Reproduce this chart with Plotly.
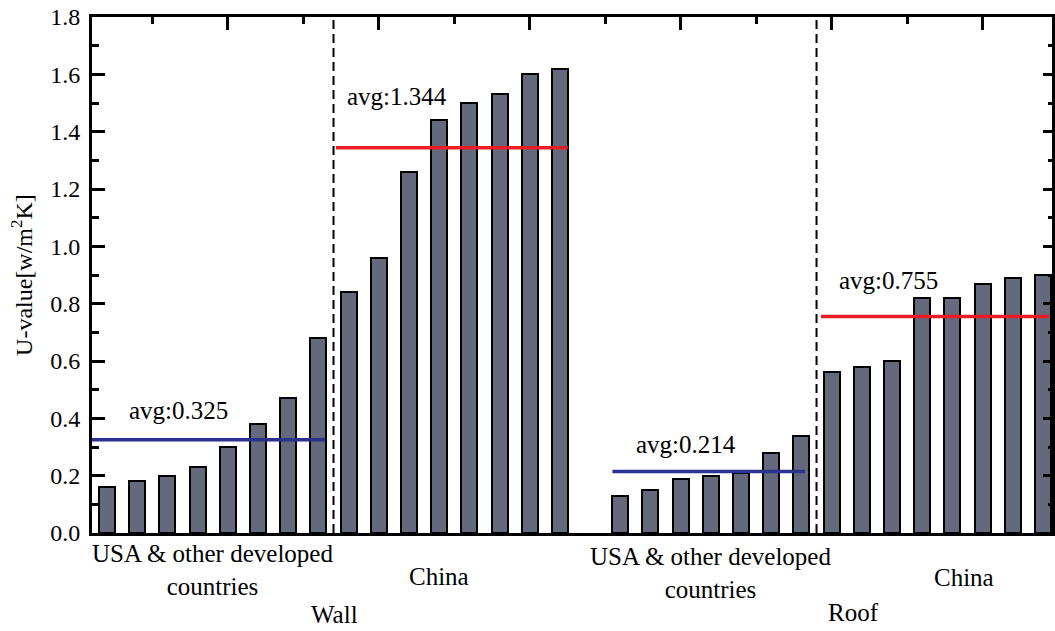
import plotly.graph_objects as go

# U-values of building envelope components [W/(m2K)]
wall_usa = [0.16, 0.18, 0.20, 0.23, 0.30, 0.38, 0.47, 0.68]
wall_china = [0.84, 0.96, 1.26, 1.44, 1.50, 1.53, 1.60, 1.62]
roof_usa = [0.13, 0.15, 0.19, 0.20, 0.21, 0.28, 0.34]
roof_china = [0.56, 0.58, 0.60, 0.82, 0.82, 0.87, 0.89, 0.90]

region_labels = ["USA & other developed<br>countries", "China"]
component_labels = ["Wall", "Roof"]

FONT = "Times New Roman"
BAR_FILL = "#646a7c"
BLUE = "#2b318f"
RED = "#ec1c24"

# slot positions: groups placed side by side, one empty slot between wall and roof
groups = [wall_usa, wall_china, roof_usa, roof_china]
positions = []
slot = 1
for gi, vals in enumerate(groups):
    if gi == 2:
        slot += 1
    positions.append(list(range(slot, slot + len(vals))))
    slot += len(vals)

fig = go.Figure()

for vals, xs in zip(groups, positions):
    fig.add_trace(go.Bar(
        x=xs, y=vals, width=0.53,
        marker=dict(color=BAR_FILL, line=dict(color="black", width=2)),
        showlegend=False, hoverinfo="skip",
    ))

# dashed separators between regions
for xs in (positions[0], positions[2]):
    xd = xs[-1] + 0.5
    fig.add_trace(go.Scatter(
        x=[xd, xd], y=[0, 1.8], mode="lines",
        line=dict(color="black", width=2, dash="9px,5px"),
        showlegend=False, hoverinfo="skip",
    ))

# average lines with labels (offsets relative to the group's first bar)
line_pads = [(0.5, 0.22), (0.42, 0.26), (0.26, 0.12), (0.35, 0.2)]
line_colors = [BLUE, RED, BLUE, RED]
label_pos = [(2.35, 0.104, "center"), (-0.12, 0.178, "left"),
             (2.18, 0.093, "center"), (0.17, 0.127, "left")]
for vals, xs, (p0, p1), col, (dx, dy, anc) in zip(groups, positions, line_pads,
                                                   line_colors, label_pos):
    avg = sum(vals) / len(vals)
    fig.add_trace(go.Scatter(
        x=[xs[0] - p0, xs[-1] + p1], y=[avg, avg], mode="lines",
        line=dict(color=col, width=3.5),
        showlegend=False, hoverinfo="skip",
    ))
    fig.add_annotation(
        x=xs[0] + dx, y=avg + dy, xref="x", yref="y",
        text=f"avg:{avg:.3f}", showarrow=False, xanchor=anc, yanchor="middle",
        font=dict(family=FONT, size=25, color="black"),
    )

# category text beneath the axis
def mid(xs):
    return (xs[0] + xs[-1]) / 2

cat_text = [
    (mid(positions[0]), -0.072, region_labels[0]),
    (mid(positions[1]) - 0.5, -0.085, region_labels[1]),
    (mid(positions[2]), -0.078, region_labels[0]),
    (mid(positions[3]) + 0.9, -0.087, region_labels[1]),
    (positions[0][-1] + 0.54, -0.158, component_labels[0]),
    (positions[2][-1] + 1.74, -0.155, component_labels[1]),
]
for x, y, t in cat_text:
    fig.add_annotation(
        x=x, y=y, xref="x", yref="paper", text=t, showarrow=False,
        xanchor="center", yanchor="middle",
        font=dict(family=FONT, size=25, color="black"),
    )

# y-axis title
fig.add_annotation(
    x=-0.073, y=0.5, xref="paper", yref="paper",
    text="U-value[w/m<sup>2</sup>K]", textangle=-90, showarrow=False,
    xanchor="center", yanchor="middle",
    font=dict(family=FONT, size=24, color="black"),
)

# invisible trace so the mirror axes are drawn
fig.add_trace(go.Scatter(x=[1], y=[0], xaxis="x2", yaxis="y2", mode="markers",
                         marker=dict(opacity=0), showlegend=False, hoverinfo="skip"))

xr = [0.5, 32.3]
fig.update_layout(
    width=1055, height=631,
    margin=dict(l=92, r=3, t=17, b=98),
    paper_bgcolor="white", plot_bgcolor="white",
    font=dict(family=FONT, size=24, color="black"),
    bargap=0,
    xaxis=dict(range=xr, showline=True, linewidth=3, linecolor="black",
               showticklabels=False, ticks="", showgrid=False, zeroline=False),
    xaxis2=dict(range=xr, overlaying="x", side="top", anchor="y",
                showline=True, linewidth=3, linecolor="black",
                showticklabels=False, showgrid=False, zeroline=False,
                tickmode="array", tickvals=[5, 10, 15, 20, 25, 30],
                ticks="inside", ticklen=13, tickwidth=2.5, tickcolor="black",
                minor=dict(tickmode="array", tickvals=[2.5, 7.5, 12.5, 17.5, 22.5, 27.5],
                           ticks="inside", ticklen=7, tickwidth=2.5, tickcolor="black")),
    yaxis=dict(range=[0, 1.8], showline=True, linewidth=3, linecolor="black",
               tickmode="linear", tick0=0, dtick=0.2, tickformat=".1f",
               ticks="inside", ticklen=13, tickwidth=2.5, tickcolor="black",
               minor=dict(dtick=0.1, ticks="inside", ticklen=7, tickwidth=2.5,
                          tickcolor="black"),
               showgrid=False, zeroline=False, ticklabelstandoff=4,
               tickfont=dict(family=FONT, size=24, color="black")),
    yaxis2=dict(range=[0, 1.8], overlaying="y", side="right", anchor="x",
                showline=True, linewidth=3, linecolor="black",
                showticklabels=False, showgrid=False, zeroline=False,
                tickmode="linear", tick0=0, dtick=0.2,
                ticks="inside", ticklen=9, tickwidth=2.5, tickcolor="black",
                minor=dict(dtick=0.1, ticks="inside", ticklen=4, tickwidth=2.5,
                           tickcolor="black")),
)

fig.write_html("out.html")
